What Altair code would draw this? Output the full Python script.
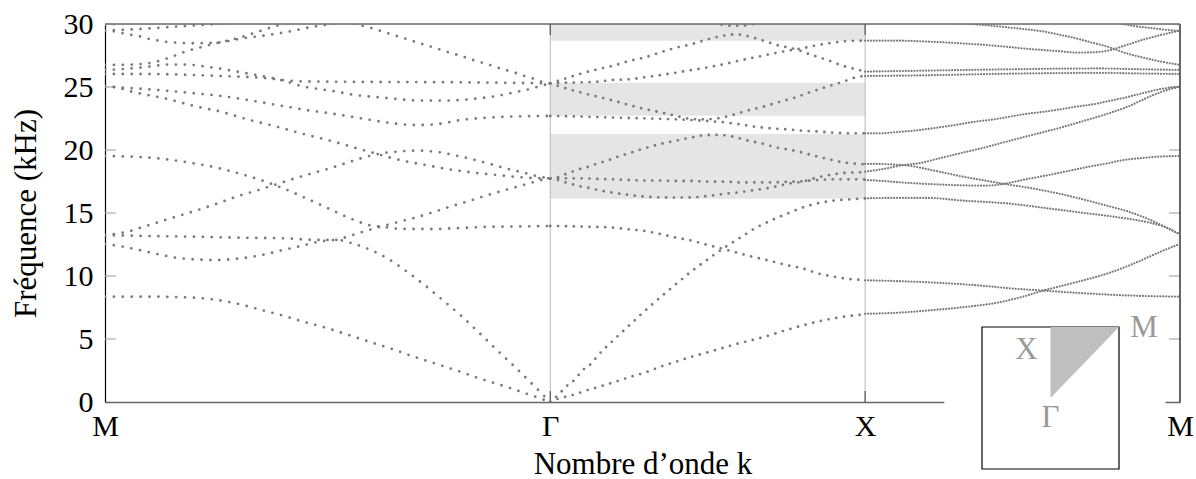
import math
import altair as alt
import pandas as pd

ROOT2 = math.sqrt(2.0)

# ---------------------------------------------------------------------------
# Band structure along the path M -> Γ -> X -> M.
# Each branch is a list of (t, f): t is the fraction along the leg (0..1),
# f is the frequency in kHz.
# ---------------------------------------------------------------------------

# Leg M -> Γ
mg_acoustic_1 = [(0, 8.36), (0.1, 8.36), (0.2, 8.28), (0.24, 8.15), (0.3, 7.78), (0.34, 7.41),
                 (0.4, 6.85), (0.44, 6.43), (0.5, 5.85), (0.54, 5.4), (0.6, 4.71), (0.64, 4.26),
                 (0.7, 3.52), (0.74, 3.07), (0.8, 2.38), (0.84, 1.88), (0.9, 1.22), (0.94, 0.74),
                 (1.0, 0.0)]
mg_acoustic_2 = [(0, 12.54), (0.04, 12.33), (0.1, 11.88), (0.16, 11.45), (0.2, 11.32), (0.24, 11.27),
                 (0.3, 11.38), (0.36, 11.72), (0.4, 12.06), (0.44, 12.38), (0.48, 12.72), (0.52, 12.86),
                 (0.56, 12.54), (0.6, 12.01), (0.64, 11.27), (0.68, 10.29), (0.72, 9.21), (0.76, 8.04),
                 (0.8, 6.83), (0.84, 5.5), (0.88, 4.13), (0.92, 2.8), (0.96, 1.4), (1.0, 0.0)]
mg_band_3 = [(0, 13.25), (0.1, 13.17), (0.2, 13.12), (0.3, 13.04), (0.4, 12.99), (0.48, 12.86),
             (0.52, 12.86), (0.54, 13.07), (0.58, 13.52), (0.62, 13.92), (0.66, 14.3), (0.7, 14.66),
             (0.74, 15.1), (0.78, 15.56), (0.82, 15.98), (0.86, 16.43), (0.9, 16.83), (0.94, 17.22),
             (0.98, 17.62), (1.0, 17.75)]
mg_band_4 = [(0, 13.25), (0.04, 13.44), (0.06, 13.6), (0.08, 13.84), (0.1, 14.05), (0.14, 14.5),
             (0.18, 14.92), (0.22, 15.37), (0.26, 15.85), (0.3, 16.35), (0.34, 16.77), (0.38, 17.22),
             (0.42, 17.67), (0.46, 18.1), (0.5, 18.49), (0.54, 18.94), (0.58, 19.39), (0.62, 19.73),
             (0.66, 19.88), (0.7, 19.95), (0.74, 19.87), (0.8, 19.47), (0.86, 18.94), (0.9, 18.54),
             (0.94, 18.2), (0.98, 17.85), (1.0, 17.75)]
mg_band_5 = [(0, 19.52), (0.1, 19.39), (0.2, 18.94), (0.26, 18.52), (0.3, 18.15), (0.36, 17.49),
             (0.4, 16.96), (0.44, 16.35), (0.48, 15.71), (0.52, 15.05), (0.56, 14.44), (0.6, 13.99),
             (0.62, 13.92), (0.66, 13.75), (0.7, 13.73), (0.74, 13.73), (0.78, 13.78), (0.82, 13.84),
             (0.86, 13.9), (0.9, 13.92), (0.95, 13.94), (1.0, 13.97)]
mg_band_6 = [(0, 25.03), (0.02, 25.0), (0.06, 24.63), (0.14, 24.05), (0.2, 23.49), (0.26, 23.04),
             (0.32, 22.43), (0.38, 21.9), (0.44, 21.32), (0.5, 20.79), (0.56, 20.19), (0.62, 19.6),
             (0.64, 19.4), (0.68, 19.07), (0.72, 18.81), (0.76, 18.54), (0.8, 18.33), (0.84, 18.15),
             (0.88, 18.02), (0.92, 17.88), (0.96, 17.77), (1.0, 17.75)]
mg_band_7 = [(0, 25.03), (0.04, 24.95), (0.1, 24.81), (0.2, 24.5), (0.26, 24.29), (0.32, 23.97),
             (0.4, 23.49), (0.46, 23.12), (0.5, 22.94), (0.56, 22.6), (0.62, 22.25), (0.66, 22.06),
             (0.7, 21.98), (0.74, 22.03), (0.8, 22.38), (0.86, 22.57), (0.9, 22.64), (0.95, 22.68),
             (1.0, 22.7)]
mg_band_8 = [(0, 26.03), (0.1, 26.03), (0.2, 25.95), (0.26, 25.87), (0.3, 25.82), (0.36, 25.71),
             (0.4, 25.55), (0.44, 25.45), (0.5, 25.42), (0.6, 25.4), (0.8, 25.37), (1.0, 25.29)]
mg_band_9 = [(0, 26.35), (0.05, 26.45), (0.1, 26.62), (0.14, 26.78), (0.18, 26.78), (0.22, 26.65),
             (0.26, 26.45), (0.3, 26.2), (0.34, 25.95), (0.38, 25.68), (0.42, 25.3), (0.44, 25.08),
             (0.48, 24.84), (0.52, 24.63), (0.56, 24.37), (0.6, 24.23), (0.64, 24.1), (0.68, 23.97),
             (0.72, 23.92), (0.76, 23.92), (0.8, 23.97), (0.84, 24.1), (0.88, 24.29), (0.92, 24.58),
             (0.96, 24.89), (0.98, 25.1), (1.0, 25.29)]
mg_band_10 = [(0, 26.75), (0.05, 26.77), (0.08, 26.82), (0.1, 26.9), (0.14, 27.27), (0.18, 27.8),
              (0.22, 28.2), (0.26, 28.56), (0.3, 28.9), (0.34, 29.35), (0.38, 29.8), (0.4, 30.0),
              (0.43, 30.3)]
mg_band_11 = [(0, 29.5), (0.02, 29.42), (0.04, 29.27), (0.06, 29.13), (0.08, 29.0), (0.1, 28.81),
              (0.12, 28.68), (0.14, 28.57), (0.16, 28.52), (0.2, 28.47), (0.24, 28.5), (0.28, 28.66),
              (0.3, 28.81), (0.34, 29.0), (0.38, 29.2), (0.42, 29.44), (0.46, 29.74), (0.5, 29.95),
              (0.53, 30.15)]
mg_band_12 = [(0, 29.5), (0.05, 29.55), (0.1, 29.65), (0.14, 29.75), (0.18, 29.84), (0.22, 29.93),
              (0.26, 30.03), (0.3, 30.12)]
mg_band_13 = [(0, 29.93), (0.02, 30.0), (0.05, 30.12)]
mg_band_14 = [(0.54, 30.2), (0.58, 29.84), (0.6, 29.66), (0.62, 29.44), (0.64, 29.21), (0.66, 29.0),
              (0.68, 28.78), (0.7, 28.54), (0.72, 28.33), (0.74, 28.12), (0.76, 27.88), (0.78, 27.67),
              (0.8, 27.46), (0.82, 27.22), (0.84, 27.0), (0.86, 26.8), (0.88, 26.56), (0.9, 26.35),
              (0.92, 26.14), (0.94, 25.9), (0.96, 25.69), (0.98, 25.42), (1.0, 25.29)]

# Leg Γ -> X
gx_acoustic_1 = [(0, 0.0), (0.03, 0.3), (0.05, 0.42), (0.08, 0.61), (0.1, 0.8), (0.15, 1.17), (0.2, 1.55),
                 (0.25, 1.96), (0.3, 2.33), (0.35, 2.8), (0.4, 3.2), (0.45, 3.6), (0.5, 3.94),
                 (0.55, 4.31), (0.6, 4.66), (0.65, 4.97), (0.7, 5.32), (0.75, 5.71), (0.8, 6.06),
                 (0.85, 6.38), (0.9, 6.64), (0.95, 6.83), (1.0, 6.96)]
gx_acoustic_2 = [(0, 0.0), (0.03, 0.69), (0.05, 1.22), (0.08, 1.83), (0.1, 2.46), (0.13, 3.04),
                 (0.15, 3.65), (0.2, 4.89), (0.25, 6.06), (0.3, 7.22), (0.35, 8.31), (0.4, 9.37),
                 (0.45, 10.4), (0.5, 11.32), (0.55, 12.2), (0.6, 12.99), (0.65, 13.78), (0.7, 14.39),
                 (0.75, 14.92), (0.8, 15.42), (0.85, 15.77), (0.9, 15.98), (0.95, 16.08), (1.0, 16.16)]
gx_band_3 = [(0, 13.97), (0.1, 13.92), (0.2, 13.84), (0.25, 13.7), (0.3, 13.57), (0.35, 13.33),
             (0.4, 13.04), (0.45, 12.8), (0.5, 12.46), (0.55, 12.14), (0.6, 11.8), (0.65, 11.48),
             (0.7, 11.19), (0.75, 10.87), (0.8, 10.61), (0.85, 10.21), (0.9, 9.95), (0.95, 9.76),
             (1.0, 9.68)]
gx_band_4 = [(0, 17.75), (0.03, 17.57), (0.05, 17.41), (0.08, 17.22), (0.1, 17.09), (0.13, 16.96),
             (0.15, 16.83), (0.2, 16.61), (0.25, 16.43), (0.3, 16.3), (0.35, 16.24), (0.4, 16.22),
             (0.45, 16.24), (0.5, 16.35), (0.55, 16.51), (0.6, 16.64), (0.65, 16.83), (0.7, 17.01),
             (0.75, 17.3), (0.8, 17.49), (0.85, 17.83), (0.9, 18.07), (0.95, 18.2), (1.0, 18.23)]
gx_band_5 = [(0, 17.75), (0.1, 17.75), (0.15, 17.7), (0.2, 17.67), (0.25, 17.62), (0.3, 17.57),
             (0.35, 17.57), (0.4, 17.54), (0.45, 17.54), (0.5, 17.49), (0.55, 17.49), (0.6, 17.43),
             (0.65, 17.43), (0.7, 17.43), (0.75, 17.47), (0.8, 17.52), (0.85, 17.62), (0.9, 17.67),
             (0.95, 17.67), (1.0, 17.67)]
gx_band_6 = [(0, 17.75), (0.03, 17.88), (0.05, 18.1), (0.08, 18.36), (0.1, 18.54), (0.13, 18.73),
             (0.15, 18.94), (0.18, 19.13), (0.2, 19.34), (0.25, 19.74), (0.3, 20.13), (0.35, 20.48),
             (0.4, 20.74), (0.45, 21.0), (0.5, 21.19), (0.53, 21.2), (0.58, 21.06), (0.62, 20.79),
             (0.67, 20.53), (0.72, 20.19), (0.78, 19.92), (0.83, 19.6), (0.88, 19.29), (0.93, 19.02),
             (0.98, 18.89), (1.0, 18.86)]
gx_band_7 = [(0, 22.7), (0.1, 22.65), (0.2, 22.57), (0.3, 22.51), (0.4, 22.43), (0.5, 22.3),
             (0.55, 22.2), (0.6, 22.04), (0.65, 21.85), (0.7, 21.72), (0.75, 21.64), (0.8, 21.53),
             (0.85, 21.46), (0.9, 21.38), (0.95, 21.32), (1.0, 21.32)]
gx_band_8 = [(0, 25.29), (0.05, 24.89), (0.1, 24.55), (0.15, 24.23), (0.2, 23.92), (0.25, 23.57),
             (0.3, 23.25), (0.35, 22.99), (0.4, 22.7), (0.45, 22.46), (0.49, 22.43), (0.53, 22.51),
             (0.58, 22.78), (0.62, 23.09), (0.67, 23.39), (0.72, 23.76), (0.78, 24.18), (0.83, 24.63),
             (0.88, 25.03), (0.93, 25.42), (0.98, 25.82), (1.0, 25.87)]
gx_band_9 = [(0, 25.29), (0.05, 25.34), (0.1, 25.37), (0.15, 25.42), (0.2, 25.56), (0.25, 25.61),
             (0.3, 25.77), (0.35, 25.95), (0.4, 26.14), (0.45, 26.35), (0.5, 26.56), (0.55, 26.8),
             (0.6, 27.09), (0.65, 27.35), (0.7, 27.62), (0.75, 27.86), (0.8, 28.07), (0.85, 28.33),
             (0.9, 28.52), (0.95, 28.65), (1.0, 28.68)]
gx_band_10 = [(0, 25.29), (0.05, 25.69), (0.1, 26.08), (0.15, 26.4), (0.2, 26.69), (0.25, 27.06),
              (0.3, 27.35), (0.35, 27.75), (0.4, 28.12), (0.45, 28.41), (0.5, 28.78), (0.55, 29.07),
              (0.59, 29.18), (0.62, 29.07), (0.67, 28.73), (0.72, 28.33), (0.78, 27.99), (0.83, 27.54),
              (0.88, 27.14), (0.93, 26.67), (0.98, 26.35), (1.0, 26.22)]
gx_band_11 = [(0.52, 30.1), (0.55, 29.92), (0.57, 29.87), (0.6, 29.87), (0.63, 29.92), (0.66, 30.1)]

# Leg X -> M
xm_band_1 = [(0, 7.0), (0.1, 7.08), (0.21, 7.28), (0.31, 7.52), (0.42, 7.88), (0.5, 8.35), (0.56, 8.8),
             (0.63, 9.25), (0.7, 9.7), (0.77, 10.2), (0.84, 10.85), (0.9, 11.5), (0.95, 12.05),
             (1.0, 12.54)]
xm_band_2 = [(0, 9.66), (0.15, 9.55), (0.26, 9.42), (0.37, 9.23), (0.47, 9.0), (0.56, 8.85),
             (0.68, 8.65), (0.79, 8.5), (0.89, 8.41), (1.0, 8.36)]
xm_band_3 = [(0, 16.16), (0.1, 16.2), (0.2, 16.2), (0.3, 16.0), (0.47, 15.71), (0.58, 15.37),
             (0.68, 15.05), (0.79, 14.7), (0.89, 14.3), (0.95, 13.9), (1.0, 13.3)]
xm_band_4 = [(0, 18.89), (0.05, 18.89), (0.09, 18.84), (0.14, 18.75), (0.21, 18.41), (0.26, 18.15),
             (0.31, 17.88), (0.37, 17.62), (0.42, 17.4), (0.45, 17.27), (0.51, 17.04), (0.57, 16.77),
             (0.62, 16.51), (0.67, 16.22), (0.72, 15.9), (0.78, 15.5), (0.83, 15.16), (0.88, 14.71),
             (0.94, 14.05), (1.0, 13.3)]
xm_band_5 = [(0, 17.62), (0.05, 17.55), (0.1, 17.45), (0.2, 17.3), (0.3, 17.2), (0.38, 17.17),
             (0.45, 17.35), (0.5, 17.62), (0.555, 17.88), (0.61, 18.15), (0.66, 18.41), (0.71, 18.67),
             (0.77, 18.94), (0.82, 19.2), (0.87, 19.34), (0.93, 19.47), (1.0, 19.52)]
xm_band_6 = [(0, 18.28), (0.06, 18.5), (0.12, 18.8), (0.17, 18.94), (0.23, 19.3), (0.3, 19.73),
             (0.38, 20.2), (0.46, 20.74), (0.54, 21.25), (0.62, 21.77), (0.7, 22.35), (0.78, 22.96),
             (0.84, 23.5), (0.88, 23.97), (0.94, 24.6), (1.0, 25.03)]
xm_band_7 = [(0, 21.32), (0.05, 21.32), (0.09, 21.4), (0.14, 21.5), (0.2, 21.67), (0.25, 21.85),
             (0.3, 22.04), (0.35, 22.25), (0.41, 22.43), (0.46, 22.65), (0.51, 22.86), (0.57, 23.04),
             (0.62, 23.23), (0.67, 23.44), (0.73, 23.65), (0.78, 23.92), (0.83, 24.18), (0.88, 24.5),
             (0.94, 24.84), (1.0, 25.03)]
xm_band_8 = [(0, 25.87), (0.2, 25.93), (0.4, 26.03), (0.6, 26.1), (0.75, 26.12), (0.85, 26.08),
             (1.0, 26.03)]
xm_band_9 = [(0, 26.22), (0.2, 26.3), (0.4, 26.38), (0.6, 26.45), (0.75, 26.47), (0.85, 26.42),
             (1.0, 26.35)]
xm_band_10 = [(0, 28.68), (0.1, 28.68), (0.2, 28.6), (0.3, 28.47), (0.41, 28.28), (0.51, 28.04),
              (0.62, 27.83), (0.67, 27.73), (0.72, 27.75), (0.77, 27.88), (0.83, 28.33), (0.88, 28.73),
              (0.94, 29.13), (1.0, 29.47)]
xm_band_11 = [(0.3, 30.05), (0.35, 29.97), (0.41, 29.84), (0.46, 29.71), (0.51, 29.58), (0.57, 29.39),
              (0.62, 29.13), (0.67, 28.86), (0.72, 28.52), (0.77, 28.2), (0.83, 27.67), (0.88, 27.35),
              (0.94, 27.01), (1.0, 26.75)]
xm_band_12 = [(0.8, 30.1), (0.85, 29.85), (0.9, 29.7), (0.95, 29.55), (1.0, 29.45)]
xm_band_13 = [(0.96, 30.05), (1.0, 29.95)]

# Shaded frequency ranges on the Γ-X leg (kHz)
shade_low = [16.14, 22.72, 28.67]
shade_high = [21.27, 25.34, 30.0]

# Axis ticks
freq_ticks = [0, 5, 10, 15, 20, 25, 30]
point_names = ["M", "Γ", "X", "M"]

# Brillouin-zone sketch: irreducible wedge Γ-X-M in reduced units
bz_names = ["Γ", "X", "M"]
bz_kx = [0.0, 0.0, 1.0]
bz_ky = [0.0, 1.0, 1.0]

# ---------------------------------------------------------------------------
legs = [("MG", 0.0, ROOT2), ("GX", ROOT2, 1.0), ("XM", ROOT2 + 1.0, 1.0)]
leg_pitch = {"MG": 8.9, "GX": 7.85, "XM": 2.9}  # dot pitch on each leg
leg_dot = {"MG": 2.8, "GX": 2.8, "XM": 2.25}    # dot diameter on each leg
branches = {
    "MG": [mg_acoustic_1, mg_acoustic_2, mg_band_3, mg_band_4, mg_band_5, mg_band_6, mg_band_7,
           mg_band_8, mg_band_9, mg_band_10, mg_band_11, mg_band_12, mg_band_13, mg_band_14],
    "GX": [gx_acoustic_1, gx_acoustic_2, gx_band_3, gx_band_4, gx_band_5, gx_band_6, gx_band_7,
           gx_band_8, gx_band_9, gx_band_10, gx_band_11],
    "XM": [xm_band_1, xm_band_2, xm_band_3, xm_band_4, xm_band_5, xm_band_6, xm_band_7, xm_band_8,
           xm_band_9, xm_band_10, xm_band_11, xm_band_12, xm_band_13],
}

rows = []
for leg, k0, length in legs:
    for i, pts in enumerate(branches[leg]):
        for t, f in pts:
            rows.append({"leg": leg, "branch": f"{leg}{i}", "k": k0 + t * length, "f": f})
bands = pd.DataFrame(rows)

K_END = 2.0 + ROOT2
point_k = [0.0, ROOT2, ROOT2 + 1.0, K_END]

W, H = 1075, 378
SERIF = "'Liberation Serif', 'DejaVu Serif', serif"
DOT = "#7a7a7a"

x_scale = alt.Scale(domain=[0, K_END], nice=False, zero=False)
y_scale = alt.Scale(domain=[0, 30], nice=False, zero=False)

label_expr = " : ".join(
    [f"datum.value < {(point_k[i] + point_k[i + 1]) / 2:.3f} ? '{point_names[i]}'" for i in range(3)]
    + [f"'{point_names[3]}'"]
)

x_axis = alt.Axis(
    values=point_k, labelExpr=label_expr, labelFont=SERIF, labelFontSize=30, labelColor="black",
    labelBaseline="alphabetic", labelPadding=33, labelFlush=False, labelOverlap=False,
    ticks=False, tickSize=0, grid=False, domainColor="#666666", domainWidth=1.4,
    title="Nombre d’onde k", titleFont=SERIF, titleFontSize=31, titleFontWeight="normal",
    titleColor="black", titleBaseline="alphabetic", titleAlign="center", titleX=W / 2, titleY=71,
)
y_axis = alt.Axis(
    values=freq_ticks, labelFont=SERIF, labelFontSize=30, labelColor="black", labelPadding=12,
    labelFlush=False, ticks=False, tickSize=0, grid=False, domainColor="black", domainWidth=1.2,
    title="Fréquence (kHz)", titleFont=SERIF, titleFontSize=31, titleFontWeight="normal",
    titleColor="black", titleAngle=-90, titleBaseline="alphabetic", titleAlign="center",
    titleX=-70, titleY=H / 2,
)


def kx(field="k:Q"):
    return alt.X(field, scale=x_scale, axis=x_axis)


def fy(field="f:Q"):
    return alt.Y(field, scale=y_scale, axis=y_axis)


# shaded ranges on Γ-X
shade_df = pd.DataFrame({"lo": shade_low, "hi": shade_high, "k0": ROOT2, "k1": ROOT2 + 1.0})
shade = alt.Chart(shade_df).mark_rect(color="#e5e5e5").encode(
    x=kx("k0:Q"), x2="k1:Q", y=fy("lo:Q"), y2="hi:Q")

inner_k = pd.DataFrame({"k": point_k[1:3]})
guides = alt.Chart(inner_k).mark_rule(color="#b8b8b8", strokeWidth=1).encode(
    x=kx(), y=alt.YDatum(0, scale=y_scale, axis=y_axis), y2=alt.Y2Datum(30))
ticks_bottom = alt.Chart(inner_k).mark_rule(color="#555555", strokeWidth=1.2).encode(
    x=kx(), y=alt.value(H - 11), y2=alt.value(H))
ticks_top = alt.Chart(inner_k).mark_rule(color="#555555", strokeWidth=1.2).encode(
    x=kx(), y=alt.value(0), y2=alt.value(11))

inner_f = pd.DataFrame({"f": freq_ticks[1:-1]})
yticks_left = alt.Chart(inner_f).mark_rule(color="#aaaaaa", strokeWidth=1.2).encode(
    y=fy(), x=alt.value(0), x2=alt.value(11))
yticks_right = alt.Chart(inner_f).mark_rule(color="#aaaaaa", strokeWidth=1.2).encode(
    y=fy(), x=alt.value(W - 11), x2=alt.value(W))

frame_top = alt.Chart(pd.DataFrame({"f": [30]})).mark_rule(color="#666666", strokeWidth=1.4).encode(
    y=fy(), x=alt.value(0), x2=alt.value(W))
frame_right = alt.Chart(pd.DataFrame({"k": [K_END]})).mark_rule(color="black", strokeWidth=1.2).encode(
    x=kx(), y=alt.value(0), y2=alt.value(H))

dot_layers = []
for leg, _, _ in legs:
    dot_layers.append(
        alt.Chart(bands[bands["leg"] == leg]).mark_line(
            interpolate="monotone", strokeDash=[0, leg_pitch[leg]], strokeCap="round",
            strokeWidth=leg_dot[leg], color=DOT, clip=True,
        ).encode(x=kx(), y=fy(), detail="branch:N")
    )

main = alt.layer(shade, guides, yticks_left, yticks_right, frame_top, frame_right,
                 ticks_bottom, ticks_top, *dot_layers)

# ---------------------------------------------------------------------------
# Inset: first Brillouin zone with the irreducible wedge
# ---------------------------------------------------------------------------
ix = alt.Scale(domain=[-1, 1], range=[877, 1014], nice=False, zero=False)
iy = alt.Scale(domain=[-1, 1], range=[445, 303], nice=False, zero=False)

panel = alt.Chart(pd.DataFrame({"a": [0]})).mark_rect(color="white").encode(
    x=alt.XDatum(-1.55, scale=ix, axis=None), x2=alt.X2Datum(1.68),
    y=alt.YDatum(-1.0, scale=iy, axis=None), y2=alt.Y2Datum(0.6))
zone = alt.Chart(pd.DataFrame({"a": [0]})).mark_rect(
    fill="white", stroke="black", strokeWidth=1.2).encode(
    x=alt.XDatum(-1, scale=ix, axis=None), x2=alt.X2Datum(1),
    y=alt.YDatum(-1, scale=iy, axis=None), y2=alt.Y2Datum(1))

g, xp, mp = 0, 1, 2
wedge_df = pd.DataFrame({
    "kx": [bz_kx[g], bz_kx[mp]],
    "lo": [bz_ky[g], bz_ky[mp]],
    "hi": [bz_ky[xp], bz_ky[mp]],
})
wedge = alt.Chart(wedge_df).mark_area(color="#bfbfbf").encode(
    x=alt.X("kx:Q", scale=ix, axis=None), y=alt.Y("lo:Q", scale=iy, axis=None), y2="hi:Q")

bz_df = pd.DataFrame({"name": bz_names, "kx": bz_kx, "ky": bz_ky})
label_offsets = {"Γ": (0, 20), "X": (-24, 23), "M": (25, 1)}
bz_labels = []
for name in bz_names:
    dx, dy = label_offsets[name]
    bz_labels.append(
        alt.Chart(bz_df[bz_df["name"] == name]).mark_text(
            font=SERIF, fontSize=31, color="#999999", dx=dx, dy=dy, baseline="middle", align="center",
        ).encode(x=alt.X("kx:Q", scale=ix, axis=None), y=alt.Y("ky:Q", scale=iy, axis=None), text="name:N")
    )

inset = alt.layer(panel, zone, wedge, *bz_labels)

chart = (
    alt.layer(main, inset)
    .resolve_scale(x="independent", y="independent")
    .properties(
        width=W, height=H,
        padding={"left": 105, "top": 24, "right": 16, "bottom": 77},
        autosize=alt.AutoSizeParams(type="none"),
        background="white",
    )
    .configure_view(stroke=None)
)

chart.save("out.html", embed_options={"renderer": "svg", "actions": False})
